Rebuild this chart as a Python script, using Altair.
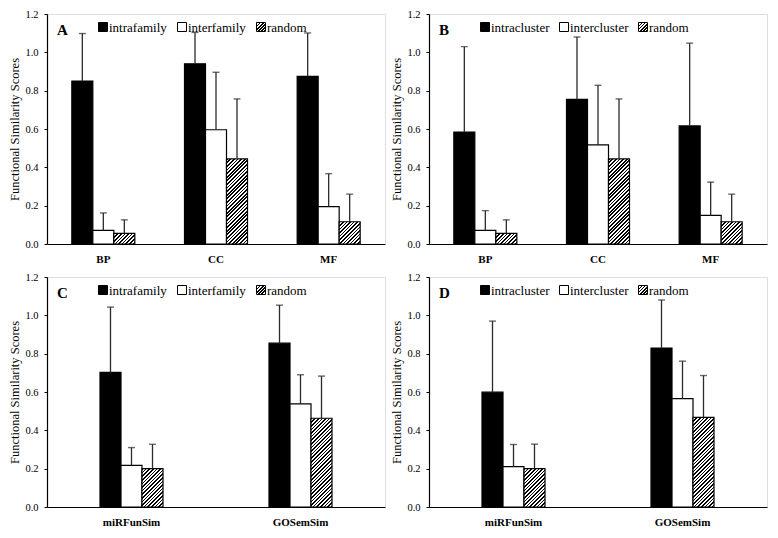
import altair as alt
import pandas as pd

# ---------------- data ----------------
CATS_GO = ["BP", "CC", "MF"]
CATS_TOOL = ["miRFunSim", "GOSemSim"]
SERIES_FAMILY = ["intrafamily", "interfamily", "random"]
SERIES_CLUSTER = ["intracluster", "intercluster", "random"]

# Panel A (GO categories, miRNA families)
A_MEAN_INTRA = [0.850, 0.940, 0.875]
A_MEAN_INTER = [0.071, 0.596, 0.195]
A_MEAN_RAND = [0.055, 0.444, 0.116]
A_SD_INTRA = [0.248, 0.164, 0.226]
A_SD_INTER = [0.091, 0.300, 0.172]
A_SD_RAND = [0.071, 0.313, 0.144]

# Panel B (GO categories, miRNA clusters)
B_MEAN_INTRA = [0.584, 0.755, 0.616]
B_MEAN_INTER = [0.071, 0.517, 0.149]
B_MEAN_RAND = [0.055, 0.444, 0.116]
B_SD_INTRA = [0.446, 0.325, 0.432]
B_SD_INTER = [0.103, 0.311, 0.174]
B_SD_RAND = [0.071, 0.313, 0.144]

# Panel C (methods, miRNA families)
C_MEAN_INTRA = [0.702, 0.855]
C_MEAN_INTER = [0.217, 0.538]
C_MEAN_RAND = [0.200, 0.463]
C_SD_INTRA = [0.341, 0.198]
C_SD_INTER = [0.093, 0.152]
C_SD_RAND = [0.127, 0.220]

# Panel D (methods, miRNA clusters)
D_MEAN_INTRA = [0.599, 0.829]
D_MEAN_INTER = [0.211, 0.565]
D_MEAN_RAND = [0.200, 0.468]
D_SD_INTRA = [0.371, 0.251]
D_SD_INTER = [0.115, 0.196]
D_SD_RAND = [0.128, 0.218]

Y_TICKS = [0.0, 0.2, 0.4, 0.6, 0.8, 1.0, 1.2]

# ---------------- layout / style ----------------
W, H = 338, 230
BAR_W = 21
FONT = "Liberation Serif"
YMAX = 1.2
LEGEND_X = [56, 135, 214]   # pixel centres of legend swatches inside each panel


def hatch(w, h, period=3.6, dark=0.45):
    """Diagonal '////' hatch as a hard-stop linear gradient (bbox units)."""
    total = w + h
    stops = []
    x = 0.0
    while x < total - 1e-9:
        a = x / total
        b = min((x + dark * period) / total, 1.0)
        c = min((x + period) / total, 1.0)
        stops += [
            {"offset": a, "color": "#000000"},
            {"offset": b, "color": "#000000"},
            {"offset": b, "color": "#ffffff"},
            {"offset": c, "color": "#ffffff"},
        ]
        x += period
    m = (w * w + h * h) / total
    return alt.LinearGradient(gradient="linear", x1=0, y1=0, x2=w / m, y2=h / m, stops=stops)


def panel(letter, cats, series, means, sds):
    rows = []
    for k, (s, mv, sv) in enumerate(zip(series, means, sds)):
        for c, m, sd in zip(cats, mv, sv):
            rows.append({"cat": c, "series": s, "k": k, "mean": m, "sd": sd})
    df = pd.DataFrame(rows)

    n = len(cats)
    step = W / n
    pi = 1 - (3 * BAR_W) / step
    xenc = alt.X(
        "cat:N",
        sort=cats,
        scale=alt.Scale(domain=cats, paddingInner=pi, paddingOuter=pi / 2),
        axis=alt.Axis(title=None, labelAngle=0, ticks=False, labelPadding=9,
                      labelFontWeight="bold", labelFontSize=11, labelColor="black",
                      domainColor="black", domainWidth=1.2, labelFont=FONT),
    )
    xoff = alt.XOffset("k:O", scale=alt.Scale(domain=[0, 1, 2], paddingInner=0, paddingOuter=0))
    yscale = alt.Scale(domain=[0, YMAX], nice=False, zero=True)
    yaxis = alt.Axis(values=Y_TICKS, format=".1f", title="Functional Similarity Scores",
                     grid=False, tickSize=3, labelPadding=6, titlePadding=3,
                     labelOverlap=False,
                     domainColor="black", tickColor="black", domainWidth=1.2,
                     labelFont=FONT, labelFontSize=10.5, labelColor="black",
                     titleFont=FONT, titleFontSize=12.5, titleFontWeight="normal",
                     titleColor="black")
    yenc = alt.Y("mean:Q", scale=yscale, axis=yaxis)
    yup = alt.Y("upper:Q", scale=yscale, axis=yaxis)

    base = alt.Chart(df)
    layers = []
    layers.append(
        base.transform_filter("datum.k === 0")
        .mark_bar(fill="black", stroke="black", strokeWidth=1.2)
        .encode(x=xenc, xOffset=xoff, y=yenc)
    )
    layers.append(
        base.transform_filter("datum.k === 1")
        .mark_bar(fill="white", stroke="black", strokeWidth=1.2)
        .encode(x=xenc, xOffset=xoff, y=yenc)
    )
    rand_means = means[2]
    for c, m in zip(cats, rand_means):
        hpx = m / YMAX * H
        layers.append(
            base.transform_filter(f"datum.k === 2 && datum.cat === '{c}'")
            .mark_bar(fill=hatch(BAR_W, hpx), stroke="black", strokeWidth=1.2)
            .encode(x=xenc, xOffset=xoff, y=yenc)
        )
    err = base.transform_calculate(upper="datum.mean + datum.sd")
    layers.append(
        err.mark_rule(color="#2b2b2b", strokeWidth=1.3)
        .encode(x=xenc, xOffset=xoff, y=yenc, y2=alt.Y2("upper:Q"))
    )
    layers.append(
        err.mark_tick(color="#2b2b2b", thickness=1.4, size=7, orient="horizontal")
        .encode(x=xenc, xOffset=xoff, y=yup)
    )

    # legend (inside the plot, top)
    sw_fills = ["black", "white", hatch(9, 9, period=3.2, dark=0.5)]
    for s, px, f in zip(series, LEGEND_X, sw_fills):
        one = alt.Chart(pd.DataFrame({"series": [s]}))
        layers.append(
            one.mark_square(size=81, stroke="black", strokeWidth=1, opacity=1, fill=f)
            .encode(x=alt.value(px), y=alt.value(13))
        )
        layers.append(
            one.mark_text(align="left", baseline="middle", dx=6, font=FONT,
                          fontSize=13, color="black")
            .encode(x=alt.value(px), y=alt.value(13.5), text="series:N")
        )
    layers.append(
        alt.Chart(pd.DataFrame({"t": [letter]}))
        .mark_text(align="left", baseline="middle", font=FONT, fontSize=15,
                   fontWeight="bold", color="black")
        .encode(x=alt.value(10), y=alt.value(16), text="t:N")
    )
    return alt.layer(*layers).properties(width=W, height=H)


pA = panel("A", CATS_GO, SERIES_FAMILY,
           [A_MEAN_INTRA, A_MEAN_INTER, A_MEAN_RAND], [A_SD_INTRA, A_SD_INTER, A_SD_RAND])
pB = panel("B", CATS_GO, SERIES_CLUSTER,
           [B_MEAN_INTRA, B_MEAN_INTER, B_MEAN_RAND], [B_SD_INTRA, B_SD_INTER, B_SD_RAND])
pC = panel("C", CATS_TOOL, SERIES_FAMILY,
           [C_MEAN_INTRA, C_MEAN_INTER, C_MEAN_RAND], [C_SD_INTRA, C_SD_INTER, C_SD_RAND])
pD = panel("D", CATS_TOOL, SERIES_CLUSTER,
           [D_MEAN_INTRA, D_MEAN_INTER, D_MEAN_RAND], [D_SD_INTRA, D_SD_INTER, D_SD_RAND])

chart = (
    alt.vconcat(
        alt.hconcat(pA, pB, spacing=4),
        alt.hconcat(pC, pD, spacing=4),
        spacing=6,
    )
    .properties(padding=0, background="white")
    .configure_view(stroke=None)
    .configure(font=FONT)
)

chart.save("out.html", embed_options={"renderer": "svg", "actions": False})
